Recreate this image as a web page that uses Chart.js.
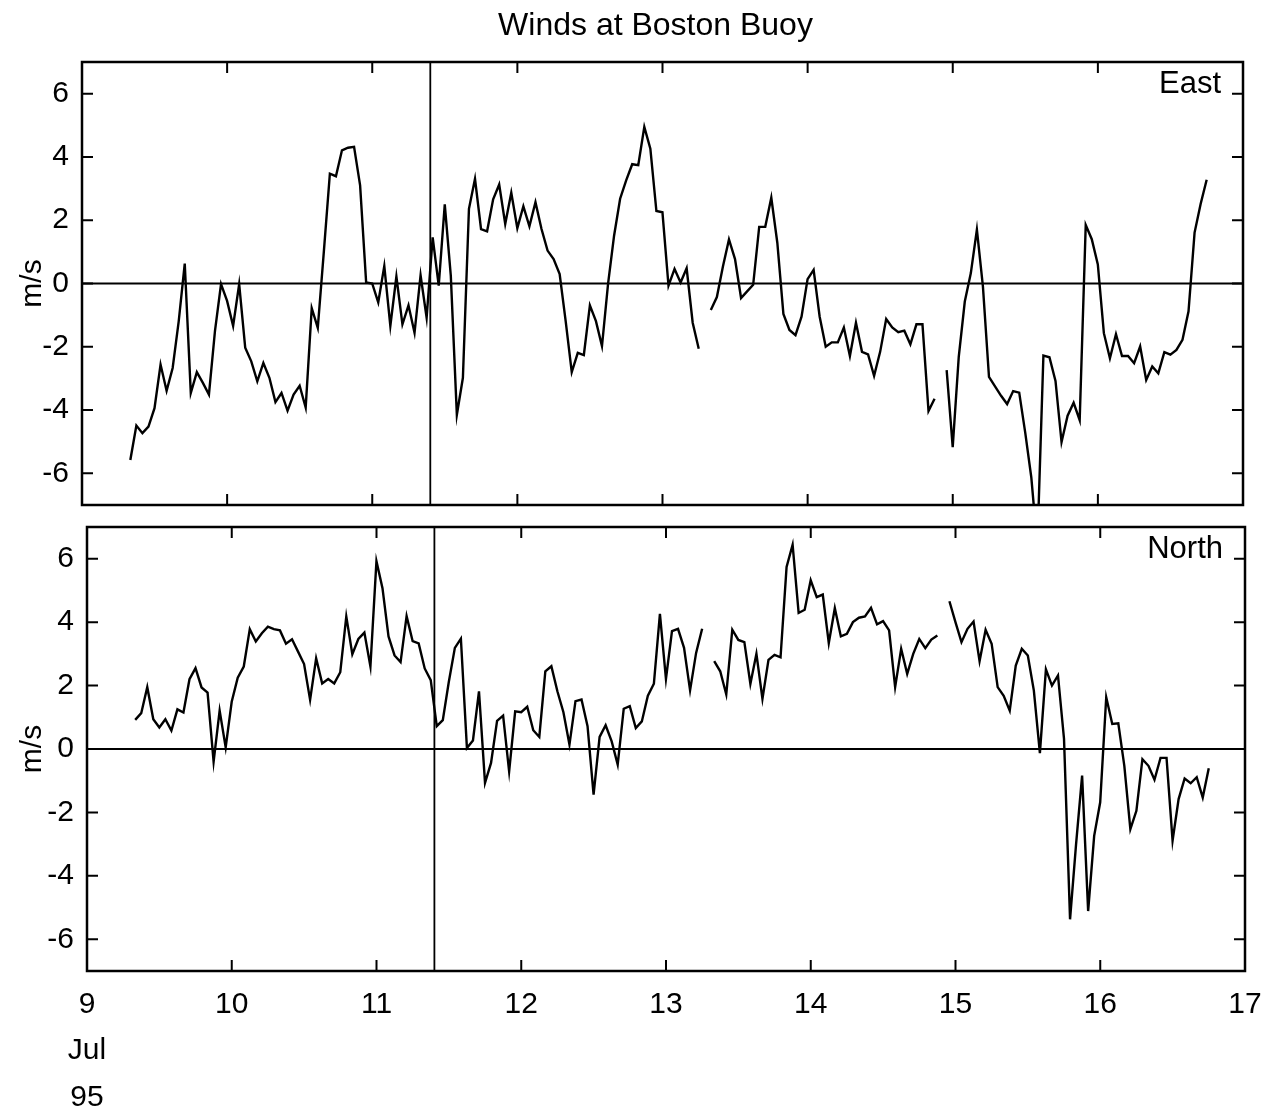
<!DOCTYPE html>
<html><head><meta charset="utf-8">
<script src="https://cdn.jsdelivr.net/npm/chart.js@4.4.1/dist/chart.umd.min.js"></script>
<style>
html,body{margin:0;padding:0;background:#fff;width:1280px;height:1111px;overflow:hidden;position:relative}
canvas{position:absolute;left:0}
#c1{top:0}
#c2{top:480px}
</style></head><body>
<canvas id="c1" width="1280" height="550"></canvas>
<canvas id="c2" width="1280" height="631"></canvas>
<script>
const chartTitle = 'Winds at Boston Buoy';
const panelNames = ['East', 'North'];
const yLabel = 'm/s';
const startDay = 9.333;          // first hourly sample (July 9, 08:00)
const stepDays = 1 / 24;         // hourly samples
const markerDay = 11.4;
const yTicks = [-6, -4, -2, 0, 2, 4, 6];
const xTicks = [9, 10, 11, 12, 13, 14, 15, 16, 17];
const xFirstTickExtra = ['Jul', '95'];

const eastValues = [
  -5.58, -4.49, -4.73, -4.52, -3.94, -2.56, -3.39, -2.67, -1.2, 0.63,
  -3.46, -2.80, -3.14, -3.51, -1.50, -0.02, -0.55, -1.34, -0.02, -2.03,
  -2.46, -3.09, -2.51, -2.98, -3.75, -3.46, -4.02, -3.51, -3.23, -3.92,
  -0.78, -1.40, 1.0, 3.47, 3.39, 4.21, 4.29, 4.32, 3.10, 0.03,
  0.0, -0.60, 0.55, -1.34, 0.22, -1.29, -0.69, -1.56, 0.26, -1.08,
  1.46, -0.07, 2.50, 0.24, -4.15, -2.98, 2.36, 3.31, 1.72, 1.65,
  2.66, 3.13, 1.88, 2.87, 1.75, 2.44, 1.81, 2.57, 1.72, 1.04,
  0.77, 0.30, -1.2, -2.80, -2.19, -2.26, -0.69, -1.19, -1.98, -0.02,
  1.51, 2.68, 3.26, 3.77, 3.74, 4.95, 4.26, 2.29, 2.25, -0.07,
  0.46, 0.03, 0.48, -1.24, -2.06, null, -0.84, -0.43, 0.54, 1.39,
  0.77, -0.46, -0.25, -0.04, 1.79, 1.79, 2.71, 1.28, -0.96, -1.47,
  -1.63, -1.05, 0.14, 0.43, -1.05, -2.0, -1.86, -1.86, -1.39, -2.29,
  -1.24, -2.16, -2.24, -2.92, -2.16, -1.12, -1.39, -1.54, -1.49, -1.92,
  -1.29, -1.29, -4.03, -3.64, null, -2.74, -5.17, -2.32, -0.57, 0.33,
  1.70, -0.10, -2.95, -3.25, -3.55, -3.81, -3.40, -3.45, -4.72, -6.13,
  -8.3, -2.28, -2.33, -3.08, -5.01, -4.18, -3.77, -4.32, 1.85, 1.40,
  0.60, -1.57, -2.36, -1.60, -2.29, -2.29, -2.52, -1.99, -3.05, -2.62,
  -2.84, -2.17, -2.25, -2.10, -1.78, -0.88, 1.61, 2.51, 3.28
];

const northValues = [
  0.92, 1.13, 1.95, 0.94, 0.68, 0.94, 0.58, 1.25, 1.15, 2.20,
  2.55, 1.94, 1.78, -0.40, 1.21, 0.05, 1.49, 2.25, 2.60, 3.78,
  3.39, 3.65, 3.86, 3.78, 3.74, 3.32, 3.46, 3.07, 2.68, 1.55,
  2.86, 2.07, 2.21, 2.07, 2.42, 4.18, 2.99, 3.47, 3.67, 2.60,
  5.92, 5.07, 3.55, 2.95, 2.74, 4.19, 3.40, 3.33, 2.54, 2.17,
  0.72, 0.91, 2.12, 3.19, 3.48, 0.03, 0.27, 1.82, -1.07, -0.44,
  0.89, 1.05, -0.71, 1.19, 1.16, 1.33, 0.59, 0.38, 2.45, 2.61,
  1.82, 1.16, 0.14, 1.51, 1.56, 0.72, -1.44, 0.38, 0.75, 0.24,
  -0.49, 1.27, 1.35, 0.66, 0.87, 1.68, 2.06, 4.26, 2.21, 3.72,
  3.79, 3.19, 1.85, 3.03, 3.79, null, 2.77, 2.45, 1.72, 3.76,
  3.44, 3.37, 2.05, 3.0, 1.58, 2.81, 2.97, 2.89, 5.74, 6.44,
  4.29, 4.39, 5.32, 4.79, 4.87, 3.34, 4.44, 3.55, 3.63, 4.0,
  4.14, 4.18, 4.45, 3.93, 4.03, 3.74, 1.95, 3.16, 2.37, 3.0,
  3.47, 3.18, 3.45, 3.58, null, 4.66, 4.0, 3.37, 3.79, 4.02,
  2.77, 3.76, 3.32, 1.95, 1.68, 1.21, 2.63, 3.16, 2.95, 1.84,
  -0.13, 2.51, 2.0, 2.32, 0.32, -5.37, -3.0, -0.84, -5.11, -2.74,
  -1.68, 1.63, 0.79, 0.81, -0.53, -2.53, -1.95, -0.32, -0.53, -0.97,
  -0.28, -0.28, -2.89, -1.58, -0.93, -1.08, -0.89, -1.53, -0.61
];

const FONT = "'Liberation Sans', Arial, Helvetica, sans-serif";

function toPoints(values) {
  return values.map((v, i) => ({ x: startDay + i * stepDays, y: v }));
}

function framePlugin(name, withTitle) {
  return {
    id: 'frame_' + name,
    afterDatasetsDraw(chart) {
      const { ctx, chartArea: a, scales: { x, y } } = chart;
      ctx.save();
      ctx.strokeStyle = '#000';
      ctx.lineWidth = 2.5;
      ctx.strokeRect(a.left, a.top, a.right - a.left, a.bottom - a.top);
      const L = 11;
      ctx.lineWidth = 2;
      ctx.beginPath();
      xTicks.forEach(v => {
        const px = x.getPixelForValue(v);
        ctx.moveTo(px, a.top); ctx.lineTo(px, a.top + L);
        ctx.moveTo(px, a.bottom); ctx.lineTo(px, a.bottom - L);
      });
      yTicks.forEach(v => {
        const py = y.getPixelForValue(v);
        ctx.moveTo(a.left, py); ctx.lineTo(a.left + L, py);
        ctx.moveTo(a.right, py); ctx.lineTo(a.right - L, py);
      });
      ctx.stroke();
      ctx.fillStyle = '#000';
      ctx.font = '31px ' + FONT;
      ctx.textAlign = 'right';
      ctx.textBaseline = 'middle';
      ctx.fillText(name, a.right - 22, y.getPixelForValue(yTicks[yTicks.length - 1]) - 9);
      if (withTitle) {
        ctx.font = '32px ' + FONT;
        ctx.textAlign = 'center';
        ctx.fillText(chartTitle, (a.left + a.right) / 2 - 7, 26);
      }
      ctx.restore();
    }
  };
}

function makeChart(canvasId, name, values, opts) {
  const lineStyle = { borderColor: '#000', pointRadius: 0, tension: 0, fill: false };
  return new Chart(document.getElementById(canvasId), {
    type: 'line',
    data: {
      datasets: [
        Object.assign({ data: toPoints(values), borderWidth: 2.4, spanGaps: false }, lineStyle),
        Object.assign({ data: [{ x: xTicks[0], y: 0 }, { x: xTicks[xTicks.length - 1], y: 0 }], borderWidth: 1.8 }, lineStyle),
        Object.assign({ data: [{ x: markerDay, y: -7 }, { x: markerDay, y: 7 }], borderWidth: 1.8 }, lineStyle)
      ]
    },
    options: {
      responsive: false,
      animation: false,
      devicePixelRatio: 1,
      events: [],
      layout: { padding: opts.padding },
      plugins: { legend: { display: false }, tooltip: { enabled: false }, title: { display: false } },
      scales: {
        x: {
          type: 'linear', min: 9, max: 17, position: 'bottom',
          grid: { display: false, drawTicks: false },
          border: { display: false },
          ticks: opts.showX ? {
            display: true, color: '#000', autoSkip: false, maxRotation: 0, minRotation: 0,
            font: { family: FONT, size: 30, lineHeight: 1.55 }, padding: 10,
            callback: v => (v === xTicks[0] ? [String(v)].concat(xFirstTickExtra) : String(v))
          } : { display: false },
          afterBuildTicks: s => { s.ticks = xTicks.map(v => ({ value: v })); },
          afterFit: s => { s.height = opts.xHeight; }
        },
        y: {
          type: 'linear', min: -7, max: 7, position: 'left',
          grid: { display: false, drawTicks: false },
          border: { display: false },
          ticks: { color: '#000', font: { family: FONT, size: 30 }, padding: 13, callback: v => String(v) },
          afterBuildTicks: s => { s.ticks = yTicks.map(v => ({ value: v })); },
          afterFit: s => { s.width = opts.yWidth; },
          title: {
            display: true, text: yLabel, color: '#000',
            font: { family: FONT, size: 30, lineHeight: 1.2 },
            padding: { top: 15, bottom: 0 }
          }
        }
      }
    },
    plugins: [framePlugin(name, opts.title)]
  });
}

makeChart('c1', panelNames[0], eastValues, {
  padding: { left: 0, right: 37, top: 62, bottom: 0 },
  yWidth: 82, xHeight: 45, showX: false, title: true
});
makeChart('c2', panelNames[1], northValues, {
  padding: { left: 0, right: 35, top: 47, bottom: 0 },
  yWidth: 87, xHeight: 140, showX: true, title: false
});
</script>
</body></html>
